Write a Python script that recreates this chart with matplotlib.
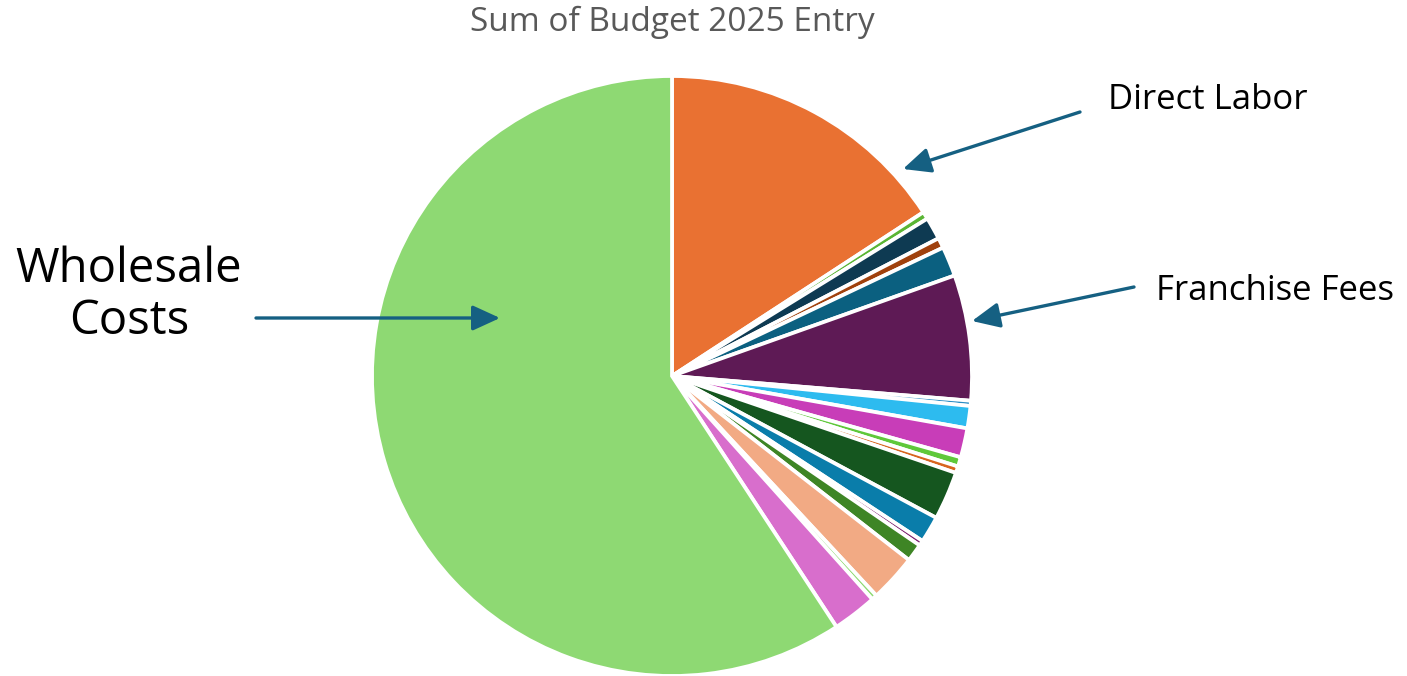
import matplotlib
matplotlib.use("Agg")
import matplotlib.pyplot as plt

# Budget 2025 expense lines, in clockwise order from 12 o'clock (share of total, %)
categories = [
    "Direct Labor", "Payroll Taxes", "Employee Benefits", "Uniforms", "Rent",
    "Franchise Fees", "Bank Charges", "Utilities", "Marketing", "Licenses & Permits",
    "Postage", "Occupancy Costs", "Insurance", "Dues & Subscriptions", "Repairs & Maintenance",
    "Supplies", "Training", "Technology", "Wholesale Costs",
]
shares = [
    15.8, 0.40, 1.20, 0.55, 1.60,
    6.75, 0.28, 1.20, 1.57, 0.51,
    0.36, 2.60, 1.43, 0.28, 0.96,
    2.56, 0.29, 2.40, 59.2,
]
colors = [
    "#E97132", "#5AB534", "#0E3A52", "#A0410D", "#0B6080",
    "#5E1A55", "#2A8CC4", "#2DBBEF", "#C83DB8", "#5FC83A",
    "#D8651F", "#15561F", "#0A7DAA", "#7B1F6E", "#3E8525",
    "#F2AA84", "#8ED973", "#D86ECC", "#8ED973",
]
labelled = ["Wholesale Costs", "Direct Labor", "Franchise Fees"]

title = "Sum of Budget 2025 Entry"

W, H = 1407, 676
DPI = 100
fig = plt.figure(figsize=(W / DPI, H / DPI), dpi=DPI)
fig.patch.set_facecolor("white")


def fx(x):
    return x / W


def fy(y):
    return 1 - y / H


# pie area: 600 px square, centred at (672, 376) from top-left
cx, cy, r = 672, 376, 300
ax = fig.add_axes([fx(cx - r), fy(cy + r), 2 * r / W, 2 * r / H])
ax.pie(
    shares,
    colors=colors,
    startangle=90,
    counterclock=False,
    radius=1.0,
    wedgeprops=dict(edgecolor="white", linewidth=2.7, joinstyle="miter"),
)
ax.set_xlim(-1.0, 1.0)
ax.set_ylim(-1.0, 1.0)
ax.set_aspect("equal")
ax.axis("off")

fig.text(fx(672), fy(31), title, ha="center", va="baseline",
         fontsize=24, color="#595959", family="Open Sans")

# callout labels
text_kw = dict(color="black", family="Open Sans", va="baseline")
wl1, wl2 = labelled[0].split(" ")
fig.text(fx(129), fy(282), wl1, ha="center", fontsize=34, **text_kw)
fig.text(fx(129), fy(334), wl2, ha="center", fontsize=34, **text_kw)
fig.text(fx(1108), fy(109), labelled[1], ha="left", fontsize=25, **text_kw)
fig.text(fx(1156), fy(300), labelled[2], ha="left", fontsize=25, **text_kw)

arrow_col = "#156082"
arrow_kw = dict(arrowstyle="-|>,head_length=1.2,head_width=0.55",
                color=arrow_col, lw=2.4, shrinkA=0, shrinkB=0)
callouts = [
    ((256, 318), (500, 318)),
    ((1080, 112), (903, 169)),
    ((1134, 287), (972, 321)),
]
for (x0, y0), (x1, y1) in callouts:
    fig.add_artist(matplotlib.patches.FancyArrowPatch(
        (fx(x0), fy(y0)), (fx(x1), fy(y1)),
        transform=fig.transFigure, mutation_scale=14, **arrow_kw))

fig.savefig("out.png", dpi=DPI, facecolor="white")
